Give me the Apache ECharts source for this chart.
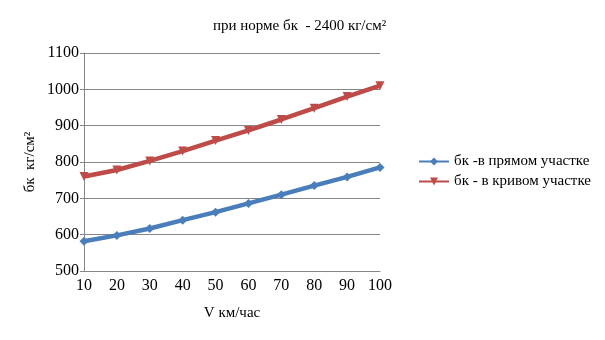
<!DOCTYPE html>
<html>
<head>
<meta charset="utf-8">
<script src="https://cdn.jsdelivr.net/npm/echarts@6/dist/echarts.min.js"></script>
<style>
  html, body { margin: 0; padding: 0; background: #fff; }
  #chart { width: 605px; height: 340px; }
</style>
</head>
<body>
<div id="chart"></div>
<script>
// Speed V, km/h
const speeds = [10, 20, 30, 40, 50, 60, 70, 80, 90, 100];
// бк on a straight section, kg/cm²
const straightValues = [582, 598, 617, 640, 662, 686, 710, 735, 759, 785];
// бк on a curved section, kg/cm²
const curvedValues = [760, 778, 803, 830, 859, 887, 917, 948, 980, 1010];

const titleText = 'при норме бк  - 2400 кг/см²';
const straightName = 'бк -в прямом участке';
const curvedName = 'бк - в кривом участке';

const font = '"Liberation Serif", "DejaVu Serif", serif';

const chart = echarts.init(document.getElementById('chart'), null, { renderer: 'canvas' });

const toPairs = (xs, ys) => xs.map((x, i) => [x, ys[i]]);

chart.setOption({
  animation: false,
  backgroundColor: '#ffffff',
  textStyle: { fontFamily: font },
  title: {
    text: titleText,
    left: 208,
    top: 14,
    textStyle: { fontFamily: font, fontSize: 15, fontWeight: 'normal', color: '#000' }
  },
  legend: {
    orient: 'vertical',
    left: 413,
    top: 149,
    itemWidth: 30,
    itemHeight: 10,
    itemGap: 5,
    textStyle: { fontFamily: font, fontSize: 15, color: '#000' },
    data: [straightName, curvedName]
  },
  grid: { left: 84, right: 225, top: 53, bottom: 69 },
  xAxis: {
    type: 'value',
    min: 10,
    max: 100,
    interval: 10,
    name: 'V км/час',
    nameLocation: 'middle',
    nameGap: 35,
    nameTextStyle: { fontFamily: font, fontSize: 15, color: '#000' },
    axisLine: { lineStyle: { color: '#868686', width: 1 } },
    axisTick: { show: false },
    axisLabel: { fontFamily: font, fontSize: 16, color: '#000', margin: 7 },
    splitLine: { show: false }
  },
  yAxis: {
    type: 'value',
    min: 500,
    max: 1100,
    interval: 100,
    name: 'бк  кг/см²',
    nameLocation: 'middle',
    nameGap: 46,
    nameRotate: 90,
    nameTextStyle: { fontFamily: font, fontSize: 15, color: '#000' },
    axisLine: { show: true, lineStyle: { color: '#868686', width: 1 } },
    axisTick: { show: true, length: 4, lineStyle: { color: '#868686' } },
    axisLabel: {
      fontFamily: font, fontSize: 16, color: '#000', margin: 5,
      formatter: (v) => String(v)
    },
    splitLine: { lineStyle: { color: '#868686', width: 1 } }
  },
  series: [
    {
      name: straightName,
      type: 'line',
      data: toPairs(speeds, straightValues),
      symbol: 'diamond',
      symbolSize: 9,
      showAllSymbol: true,
      lineStyle: { color: '#4a7ebb', width: 4.5 },
      itemStyle: { color: '#4a7ebb' }
    },
    {
      name: curvedName,
      type: 'line',
      data: toPairs(speeds, curvedValues),
      symbol: 'triangle',
      symbolRotate: 180,
      symbolSize: 9,
      showAllSymbol: true,
      lineStyle: { color: '#be4b48', width: 4.5 },
      itemStyle: { color: '#be4b48' }
    }
  ]
});
</script>
</body>
</html>
